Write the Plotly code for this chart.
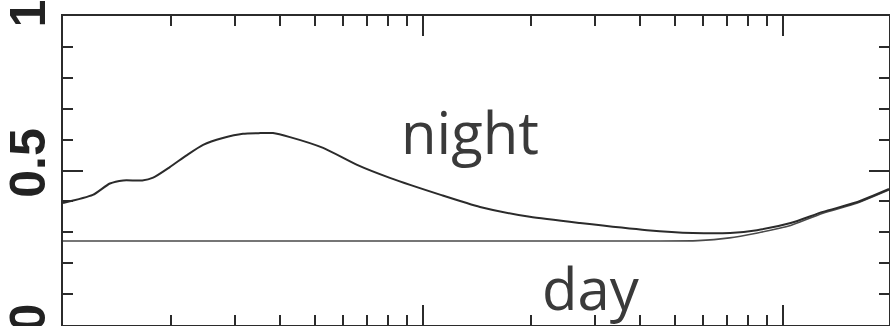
import math
import plotly.graph_objects as go

# Night-time curve (x on a log scale)
night_x = [1.0, 1.21, 1.35, 1.47, 1.66, 1.78, 1.98, 2.21, 2.45, 2.78, 3.16, 3.53,
           3.83, 4.27, 5.28, 6.56, 8.09, 11.2, 14.4, 19.8, 27.3, 41.9, 56.2, 71.3,
           84.7, 105, 129, 161, 197]
night_y = [0.395, 0.421, 0.458, 0.468, 0.468, 0.477, 0.511, 0.550, 0.583, 0.605, 0.619, 0.621,
           0.621, 0.608, 0.573, 0.518, 0.476, 0.421, 0.382, 0.350, 0.330, 0.307, 0.298, 0.298,
           0.307, 0.330, 0.366, 0.398, 0.440]

# Day-time curve
day_x = [1.0, 10.0, 40.0, 58.0, 71.0, 85.0, 97.0, 105, 129, 161, 197]
day_y = [0.272, 0.272, 0.272, 0.273, 0.282, 0.298, 0.312, 0.322, 0.362, 0.395, 0.437]

y_ticks = [0, 0.5, 1]
# thin space keeps the top label clear of the page edge
y_tick_text = ["0", "0.5", "1\u2009"]
x_major = [1, 10, 100]
x_minor = [m * d for d in (1, 10, 100) for m in range(2, 10) if m * d <= 200]

ink = "#2b2b2b"

fig = go.Figure()
fig.add_trace(go.Scatter(x=day_x, y=day_y, mode="lines",
                         line=dict(color="#4a4a4a", width=1.6, shape="spline", smoothing=0.6),
                         hoverinfo="skip"))
fig.add_trace(go.Scatter(x=night_x, y=night_y, mode="lines",
                         line=dict(color=ink, width=2, shape="spline", smoothing=0.6),
                         hoverinfo="skip"))

fig.add_annotation(x=math.log10(13.5), y=0.626, xref="x", yref="y", text="night",
                   showarrow=False, xanchor="center", yanchor="middle",
                   font=dict(family="Open Sans", size=58, color="#3a3a3a"))
fig.add_annotation(x=math.log10(29.3), y=0.121, xref="x", yref="y", text="day",
                   showarrow=False, xanchor="center", yanchor="middle",
                   font=dict(family="Open Sans", size=58, color="#3a3a3a"))

axis_common = dict(showline=True, linecolor=ink, linewidth=2, mirror="ticks",
                   ticks="inside", tickcolor=ink, tickwidth=2, ticklen=20,
                   showgrid=False, zeroline=False, automargin=False)

fig.update_xaxes(type="log", range=[0, math.log10(197)], tickvals=x_major,
                 showticklabels=False,
                 minor=dict(tickvals=x_minor, ticks="inside", ticklen=10,
                            tickcolor=ink, tickwidth=2, showgrid=False),
                 **axis_common)
fig.update_yaxes(range=[0, 1], tickvals=y_ticks, ticktext=y_tick_text, tickangle=-90,
                 tickfont=dict(family="Liberation Sans", size=50, color="#222222", weight="bold"),
                 ticklabelstandoff=-4, ticklabeloverflow="allow",
                 minor=dict(dtick=0.1, ticks="inside", ticklen=10,
                            tickcolor=ink, tickwidth=2, showgrid=False),
                 **axis_common)

fig.update_layout(width=890, height=326, margin=dict(l=63, r=1, t=16, b=1),
                  paper_bgcolor="white", plot_bgcolor="white", showlegend=False)

fig.write_html("out.html")
